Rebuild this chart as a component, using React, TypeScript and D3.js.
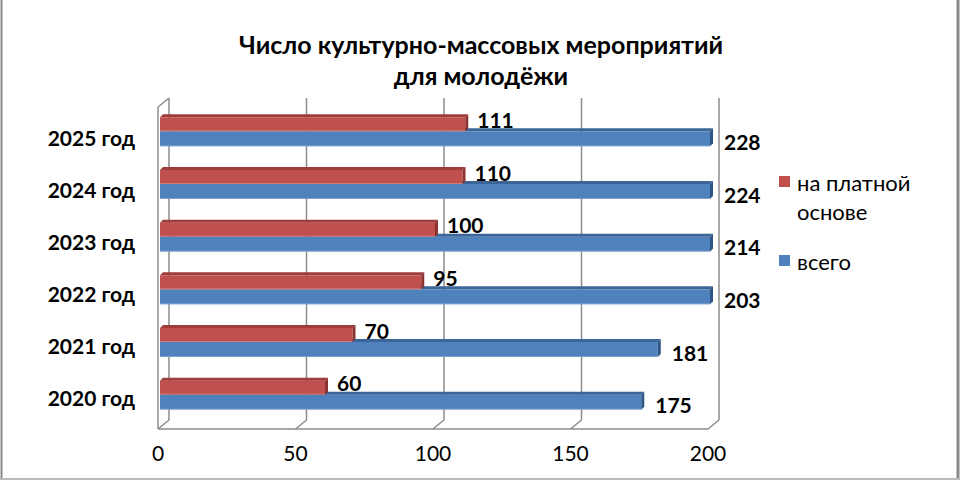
import React from "react";
import * as d3 from "d3";

const categories = ["2020 год", "2021 год", "2022 год", "2023 год", "2024 год", "2025 год"];
const totalValues = [175, 181, 203, 214, 224, 228];
const paidValues = [60, 70, 95, 100, 110, 111];
const xTicks = [0, 50, 100, 150, 200];
const seriesNames = ["на платной основе", "всего"];

const W = 960;
const H = 480;
const FONT = "Lato, 'Open Sans', sans-serif";

const RED = "#C0504D";
const RED_TOP = "#9E3D3A";
const RED_SIDE = "#8A3331";
const BLUE = "#4F81BD";
const BLUE_TOP = "#3A6596";
const BLUE_SIDE = "#2F5686";
const GRID = "#8C8C8C";

// 3d offset of the back wall against the floor front edge
const DX = 11;
const DY = -9;
const BAR_D = 3;

const floorY = 429;
const wallTop = 107;

const xFront = d3.scaleLinear().domain([0, 200]).range([158, 708]);
const xBar = d3.scaleLinear().domain([0, 200]).range([160, 710]).clamp(true);
const yBand = d3.scaleBand<string>().domain([...categories].reverse()).range([105, 421]);
const yLabel = d3.scaleBand<string>().domain([...categories].reverse()).range([112, 423]);

function Bar3D({ v, y0, y1, front, top, side }: {
  v: number; y0: number; y1: number; front: string; top: string; side: string;
}) {
  const x0 = xBar(0);
  const x1 = xBar(v);
  const d = BAR_D;
  return (
    <g>
      <rect x={x0} y={y0} width={x1 - x0} height={y1 - y0} fill={front} />
      <line x1={x0} x2={x1} y1={y1 - 0.5} y2={y1 - 0.5} stroke="#ffffff" strokeOpacity={0.25} />
      <polygon
        points={`${x0},${y0} ${x0 + d},${y0 - d} ${x1 + d},${y0 - d} ${x1},${y0}`}
        fill={top}
      />
      <polygon
        points={`${x1},${y0} ${x1 + d},${y0 - d} ${x1 + d},${y1 - d} ${x1},${y1}`}
        fill={side}
      />
    </g>
  );
}

export default function App() {
  const legend = [
    { lines: ["на платной", "основе"], color: RED, y: 182 },
    { lines: ["всего"], color: BLUE, y: 261 },
  ];

  return (
    <svg
      width={W}
      height={H}
      viewBox={`0 0 ${W} ${H}`}
      style={{ position: "absolute", left: 0, top: 0, background: "#fff" }}
      fontFamily={FONT}
    >
      {/* outer frame */}
      <line x1={1.5} x2={1.5} y1={0} y2={H} stroke="#8a8a8a" strokeWidth={2} />
      <line x1={W - 2} x2={W - 2} y1={0} y2={H} stroke="#8a8a8a" strokeWidth={3} />
      <line x1={0} x2={W} y1={H - 1} y2={H - 1} stroke="#bbbbbb" strokeWidth={2} />

      {/* title */}
      <text x={481} y={44} textAnchor="middle" dominantBaseline="central" fontWeight="bold" fontSize={25}>
        Число культурно-массовых мероприятий
      </text>
      <text x={481} y={75} textAnchor="middle" dominantBaseline="central" fontWeight="bold" fontSize={25}>
        для молодёжи
      </text>

      {/* walls and floor */}
      <g stroke={GRID} strokeWidth={1.5} fill="none">
        {xTicks.map((t) => (
          <g key={t}>
            <line x1={xFront(t) + DX} x2={xFront(t) + DX} y1={wallTop + DY} y2={floorY + DY} />
            <line x1={xFront(t)} y1={floorY} x2={xFront(t) + DX} y2={floorY + DY} />
          </g>
        ))}
        <line x1={xFront(0)} x2={xFront(200)} y1={floorY} y2={floorY} />
        <line x1={xFront(0)} x2={xFront(0)} y1={wallTop} y2={floorY} />
        <line x1={xFront(0)} y1={wallTop} x2={xFront(0) + DX} y2={wallTop + DY} />
      </g>

      {/* bars */}
      {categories.map((c, i) => {
        const mid = (yBand(c) ?? 0) + yBand.bandwidth() / 2;
        return (
          <g key={c}>
            <Bar3D v={totalValues[i]} y0={mid} y1={mid + 15} front={BLUE} top={BLUE_TOP} side={BLUE_SIDE} />
            <Bar3D v={paidValues[i]} y0={mid - 14} y1={mid} front={RED} top={RED_TOP} side={RED_SIDE} />
          </g>
        );
      })}

      {/* data labels */}
      {categories.map((c, i) => {
        const mid = (yBand(c) ?? 0) + yBand.bandwidth() / 2;
        return (
          <g key={c} fontWeight="bold" fontSize={21} fill="#000">
            <text x={xBar(paidValues[i]) + 12} y={mid - 12} dominantBaseline="central">
              {paidValues[i]}
            </text>
            <text x={xBar(totalValues[i]) + 14} y={mid + 10} dominantBaseline="central">
              {totalValues[i]}
            </text>
          </g>
        );
      })}

      {/* category labels */}
      {categories.map((c) => (
        <text
          key={c}
          x={135}
          y={(yLabel(c) ?? 0) + yLabel.bandwidth() / 2}
          textAnchor="end"
          dominantBaseline="central"
          fontWeight="bold"
          fontSize={21}
        >
          {c}
        </text>
      ))}

      {/* x tick labels */}
      {xTicks.map((t) => (
        <text key={t} x={xFront(t)} y={452} textAnchor="middle" dominantBaseline="central" fontSize={21}>
          {t}
        </text>
      ))}

      {/* legend */}
      {legend.map((l, k) => (
        <g key={seriesNames[k]}>
          <rect x={779} y={l.y - 6} width={11} height={11} fill={l.color} />
          {l.lines.map((line, j) => (
            <text key={line} x={797} y={l.y + j * 29} dominantBaseline="central" fontSize={22}>
              {line}
            </text>
          ))}
        </g>
      ))}
    </svg>
  );
}
